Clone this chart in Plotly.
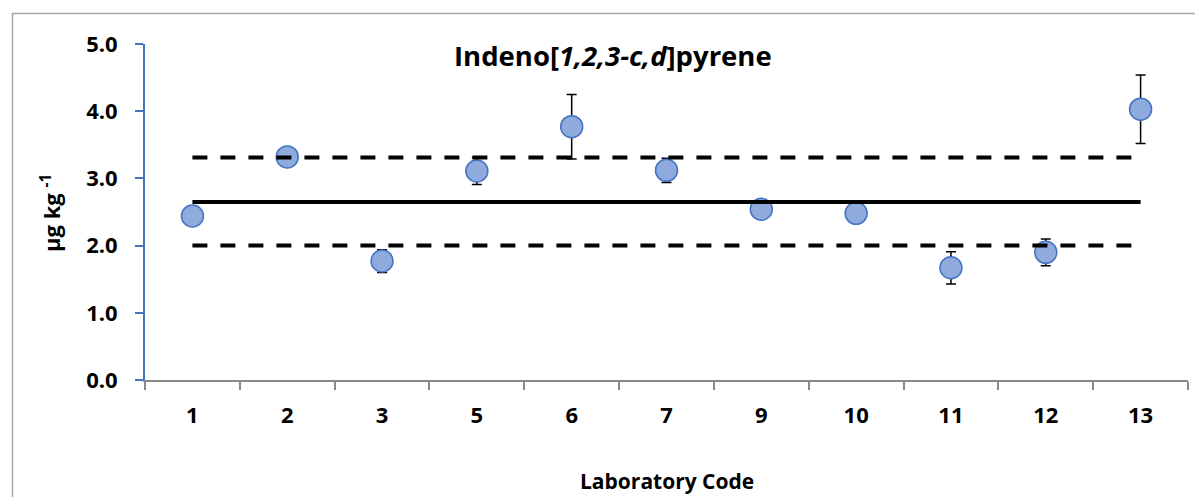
import plotly.graph_objects as go

labs = ["1", "2", "3", "5", "6", "7", "9", "10", "11", "12", "13"]
values = [2.44, 3.32, 1.77, 3.11, 3.77, 3.12, 2.54, 2.48, 1.67, 1.90, 4.03]
errors = [0.08, 0.08, 0.17, 0.20, 0.48, 0.18, 0.08, 0.08, 0.24, 0.20, 0.51]
assigned = 2.65
upper_limit = 3.31
lower_limit = 2.00
yticks = [0, 1, 2, 3, 4, 5]

FONT = "Open Sans"

# plot area in screen pixels (page body adds 8px offset)
PL, PR, PT, PB = 145, 1188, 44, 380
PW, PH = PR - PL, PB - PT


def px(x):
    return (x - PL) / PW


def py(y):
    return (PB - y) / PH


fig = go.Figure()
fig.add_trace(go.Scatter(
    x=labs, y=values, mode="markers",
    marker=dict(size=22, color="#8FAADC", line=dict(color="#4472C4", width=1.5)),
    error_y=dict(type="data", array=errors, visible=True, color="black", thickness=1.5, width=5),
    showlegend=False, hoverinfo="x+y",
))
fig.add_trace(go.Scatter(x=labs, y=[upper_limit] * len(labs), mode="lines",
                         line=dict(color="black", width=4, dash="15px,13px"), showlegend=False))
fig.add_trace(go.Scatter(x=labs, y=[lower_limit] * len(labs), mode="lines",
                         line=dict(color="black", width=4, dash="15px,13px"), showlegend=False))
fig.add_trace(go.Scatter(x=labs, y=[assigned] * len(labs), mode="lines",
                         line=dict(color="black", width=4), showlegend=False))

fig.update_layout(
    width=1195, height=489,
    margin=dict(l=137, r=15, t=36, b=117),
    paper_bgcolor="white", plot_bgcolor="white",
    font=dict(family=FONT, color="black"),
    xaxis=dict(type="category", range=[-0.5, len(labs) - 0.5], autorange=False,
               tickson="boundaries", ticks="outside", ticklen=8,
               tickcolor="#898989", tickwidth=1.5, showline=True, linecolor="#898989",
               linewidth=2, showgrid=False, zeroline=False,
               tickfont=dict(family=FONT, size=22, color="black", weight="bold"),
               ticklabelstandoff=15),
    yaxis=dict(range=[0, 5], autorange=False, tickvals=yticks, tickformat=".1f",
               ticks="outside", ticklen=8,
               tickcolor="#4472C4", tickwidth=1.5, showline=True, linecolor="#4472C4",
               linewidth=2, showgrid=False, zeroline=False,
               tickfont=dict(family=FONT, size=22, color="black", weight="bold"),
               ticklabelstandoff=13),
    annotations=[
        dict(text="<b>Indeno[<i>1,2,3-c,d</i>]pyrene</b>", xref="paper", yref="paper",
             x=px(613), y=py(55), xanchor="center", yanchor="middle", showarrow=False,
             font=dict(family=FONT, size=27.5, color="black")),
        dict(text="<b>µg kg <sup>-1</sup></b>", textangle=-90, xref="paper", yref="paper",
             x=px(50), y=py(213), xanchor="center", yanchor="middle",
             showarrow=False, font=dict(family=FONT, size=22, color="black")),
        dict(text="<b>Laboratory Code</b>", xref="paper", yref="paper",
             x=px(667), y=py(481), xanchor="center", yanchor="middle",
             showarrow=False, font=dict(family=FONT, size=21, color="black")),
    ],
    shapes=[dict(type="rect", xref="paper", yref="paper",
                 x0=px(12.5), x1=px(1215), y0=py(510), y1=py(13.5),
                 line=dict(color="#A6A6A6", width=1.5), fillcolor="rgba(0,0,0,0)", layer="below")],
)

fig.write_html("out.html")
